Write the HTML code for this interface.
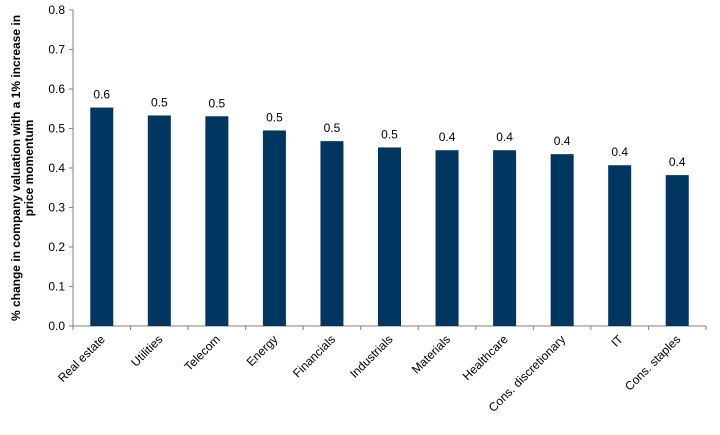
<!DOCTYPE html>
<html><head><meta charset="utf-8"><style>
body{margin:0;background:#fff;}
svg text{font-family:"Liberation Sans",Arial,sans-serif;fill:#000;}
</style></head><body>
<svg id="chart" width="720" height="430" xmlns="http://www.w3.org/2000/svg"></svg>
<script>
const categories=["Real estate","Utilities","Telecom","Energy","Financials","Industrials","Materials","Healthcare","Cons. discretionary","IT","Cons. staples"];
const values=[0.553,0.533,0.531,0.495,0.468,0.452,0.445,0.445,0.435,0.407,0.382];
const valueLabels=["0.6","0.5","0.5","0.5","0.5","0.5","0.4","0.4","0.4","0.4","0.4"];
const yTicks=[0,0.1,0.2,0.3,0.4,0.5,0.6,0.7,0.8];
const yTickLabels=["0.0","0.1","0.2","0.3","0.4","0.5","0.6","0.7","0.8"];

const svg=document.getElementById('chart');
const NS="http://www.w3.org/2000/svg";
const x0=73,x1=706,yBase=326,yTop=10,yMax=0.8;
const band=(x1-x0)/categories.length;
const yScale=v=>yBase-(v/yMax)*(yBase-yTop);
const xCenter=i=>x0+band*(i+0.5);
function mk(tag,attrs,txt){const e=document.createElementNS(NS,tag);for(const k in attrs)e.setAttribute(k,attrs[k]);if(txt!==undefined)e.textContent=txt;svg.appendChild(e);return e;}

// axes
let e=mk('line',{x1:x0,y1:yTop,x2:x0,y2:yBase,stroke:'#808080','stroke-width':1});


e=mk('line',{x1:x0,y1:yBase,x2:x1,y2:yBase,stroke:'#808080','stroke-width':1});



yTicks.forEach((t,i)=>{
  const y=yScale(t);
  let l=mk('line',{x1:x0-4,y1:y,x2:x0,y2:y,stroke:'#808080'});
  
  
  let tx=mk('text',{x:x0-8,y:y+4,'text-anchor':'end','font-size':12},yTickLabels[i]);
  
  
});
for(let i=0;i<=categories.length;i++){
  const x=x0+band*i;
  let l=mk('line',{x1:x,y1:yBase,x2:x,y2:yBase+4,stroke:'#808080'});
  
  
}
categories.forEach((c,i)=>{
  const cx=xCenter(i),w=23,y=yScale(values[i]);
  let r=mk('rect',{x:cx-w/2,y:y,width:w,height:yBase-y,fill:'#003660'});
  
  
  let v=mk('text',{x:cx,y:y-9,'text-anchor':'middle','font-size':12},valueLabels[i]);
  
  
  let t=mk('text',{x:cx+4,y:yBase+14,'text-anchor':'end','font-size':12,transform:`rotate(-45 ${cx+4} ${yBase+14})`},c);
  
  
});
let yt=mk('text',{transform:'translate(22,168) rotate(-90)','text-anchor':'middle','font-size':12,'font-weight':'bold'});


const t1=document.createElementNS(NS,'tspan');t1.setAttribute('x',0);t1.setAttribute('dy',-2);t1.textContent='% change in company valuation with a 1% increase in';yt.appendChild(t1);
const t2=document.createElementNS(NS,'tspan');t2.setAttribute('x',0);t2.setAttribute('dy',13);t2.textContent='price momentum';yt.appendChild(t2);
</script>
</body></html>
